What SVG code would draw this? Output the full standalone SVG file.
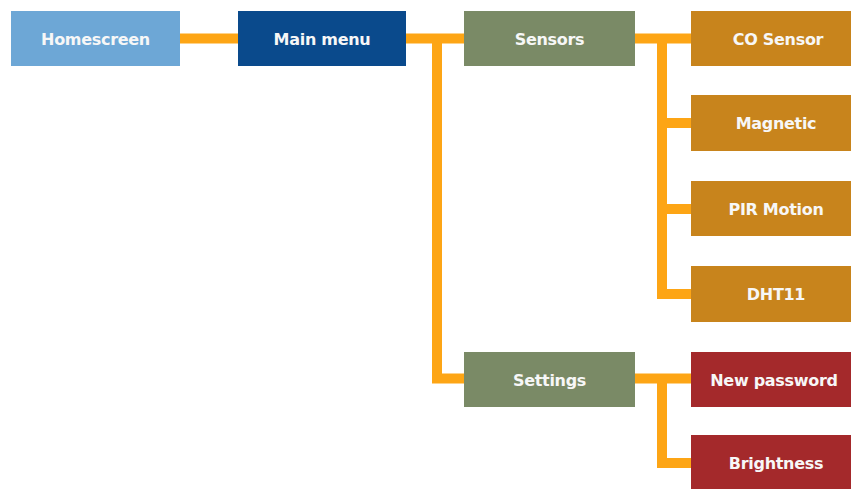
<svg xmlns="http://www.w3.org/2000/svg" width="851" height="489" viewBox="0 0 851 489">
  <style>
    .box { stroke: none; }
    .home { fill: #6da7d6; }
    .main { fill: #0a4a8c; }
    .group { fill: #7a8a66; }
    .sensor { fill: #c8841c; }
    .setting { fill: #a4292b; }
    .label { font-family: "DejaVu Sans", Verdana, sans-serif; font-weight: bold; font-size: 16px; fill: #f7f7f7; text-anchor: middle; letter-spacing: -0.3px; }
    .link { fill: none; stroke: #fda515; stroke-width: 10; stroke-linejoin: miter; stroke-linecap: butt; }
  </style>
  <rect width="851" height="489" fill="#ffffff"/>

  <!-- connectors -->
  <g id="connectors">
    <path class="link" d="M180 38.5 H238"/>
    <path class="link" d="M406 38.5 H464"/>
    <path class="link" d="M437 38.5 V378.5 H464"/>
    <path class="link" d="M635 38.5 H691"/>
    <path class="link" d="M662 38.5 V294 H691"/>
    <path class="link" d="M662 123 H691"/>
    <path class="link" d="M662 209 H691"/>
    <path class="link" d="M635 378.5 H691"/>
    <path class="link" d="M662 378.5 V463 H691"/>
  </g>

  <g id="homescreen">
    <rect class="box home" x="11" y="11" width="169" height="55"/>
    <text class="label" x="95.5" y="45">Homescreen</text>
  </g>
  <g id="main-menu">
    <rect class="box main" x="238" y="11" width="168" height="55"/>
    <text class="label" x="322" y="45">Main menu</text>
  </g>
  <g id="sensors">
    <rect class="box group" x="464" y="11" width="171" height="55"/>
    <text class="label" x="549.5" y="45">Sensors</text>
  </g>
  <g id="settings">
    <rect class="box group" x="464" y="352" width="171" height="55"/>
    <text class="label" x="549.5" y="386">Settings</text>
  </g>
  <g id="co-sensor">
    <rect class="box sensor" x="691" y="11" width="170" height="55"/>
    <text class="label" x="778" y="45">CO Sensor</text>
  </g>
  <g id="magnetic">
    <rect class="box sensor" x="691" y="95" width="170" height="56"/>
    <text class="label" x="776" y="129">Magnetic</text>
  </g>
  <g id="pir-motion">
    <rect class="box sensor" x="691" y="181" width="170" height="55"/>
    <text class="label" x="776" y="215">PIR Motion</text>
  </g>
  <g id="dht11">
    <rect class="box sensor" x="691" y="266" width="170" height="56"/>
    <text class="label" x="776" y="300">DHT11</text>
  </g>
  <g id="new-password">
    <rect class="box setting" x="691" y="352" width="170" height="55"/>
    <text class="label" x="774" y="386">New password</text>
  </g>
  <g id="brightness">
    <rect class="box setting" x="691" y="435" width="170" height="60"/>
    <text class="label" x="776" y="469">Brightness</text>
  </g>
</svg>
